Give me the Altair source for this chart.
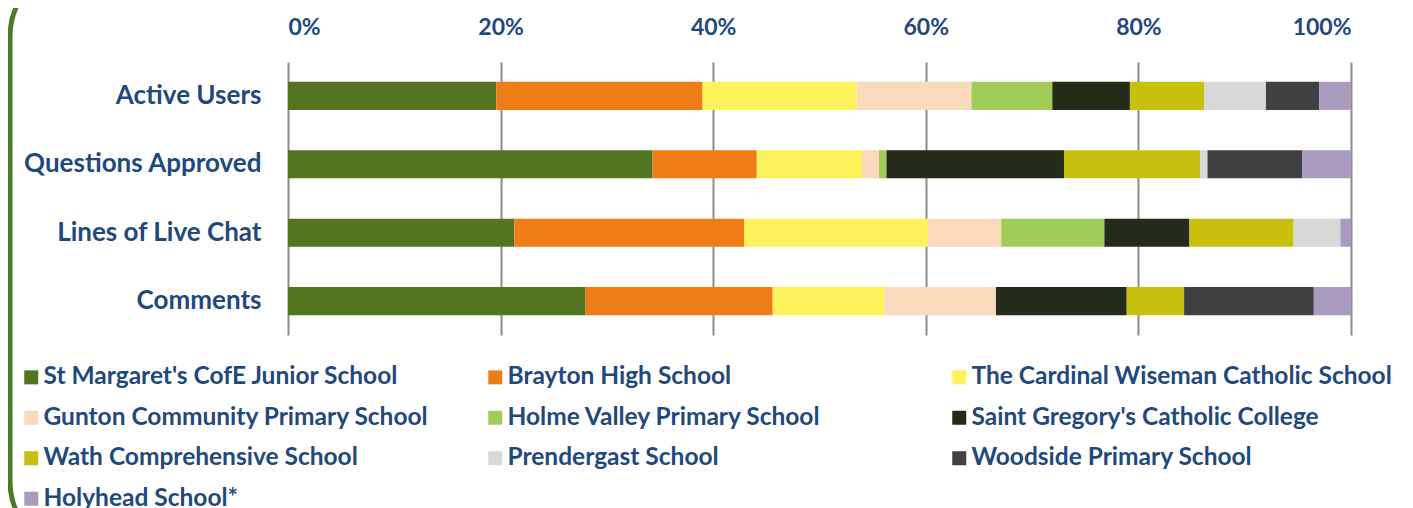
import altair as alt
import pandas as pd

metrics = ["Active Users", "Questions Approved", "Lines of Live Chat", "Comments"]
schools = [
    "St Margaret's CofE Junior School",
    "Brayton High School",
    "The Cardinal Wiseman Catholic School",
    "Gunton Community Primary School",
    "Holme Valley Primary School",
    "Saint Gregory's Catholic College",
    "Wath Comprehensive School",
    "Prendergast School",
    "Woodside Primary School",
    "Holyhead School*",
]
colors = ["#537521", "#EE7D16", "#FFF15C", "#FBD9BC", "#A0CC57",
          "#242B18", "#C9BF0E", "#D8D8D8", "#414042", "#A99BC0"]

# shares (%) per school, in legend order
active_users = [19.6, 19.4, 14.5, 10.8, 7.6, 7.3, 7.0, 5.8, 5.0, 3.0]
questions_approved = [34.3, 9.8, 9.9, 1.6, 0.7, 16.7, 12.8, 0.7, 8.9, 4.6]
lines_of_live_chat = [21.3, 21.6, 17.3, 6.9, 9.7, 8.0, 9.8, 4.4, 0.0, 1.0]
comments = [28.0, 17.6, 10.5, 10.5, 0.0, 12.3, 5.4, 0.0, 12.2, 3.5]

x_ticks = [0, 0.2, 0.4, 0.6, 0.8, 1.0]

series = [active_users, questions_approved, lines_of_live_chat, comments]
rows = []
for m, vals in zip(metrics, series):
    for i, (s, v) in enumerate(zip(schools, vals)):
        rows.append({"metric": m, "school": s, "value": v, "idx": i})
df = pd.DataFrame(rows)

TEXT = "#1F497D"
FONT = "Lato"

border = alt.Chart(pd.DataFrame({"d": [0]})).mark_rect(
    fill="transparent", stroke="#4F7A24", strokeWidth=5, cornerRadius=73
).encode(
    x=alt.value(-278), x2=alt.value(1700), y=alt.value(-98), y2=alt.value(492)
)

bars = alt.Chart(df).mark_bar().encode(
    y=alt.Y(
        "metric:N",
        sort=metrics,
        scale=alt.Scale(paddingInner=0.59, paddingOuter=0.29),
        axis=alt.Axis(
            title=None, domain=False, ticks=False, tickSize=0, labelPadding=27,
            labelFontSize=26, labelLimit=400, grid=False,
        ),
    ),
    x=alt.X(
        "value:Q",
        stack="normalize",
        scale=alt.Scale(domain=[0, 1], nice=False),
        axis=alt.Axis(
            orient="top", title=None, format="%", values=x_ticks, domain=False,
            ticks=False, tickSize=0, labelPadding=23, labelFontSize=23,
            grid=True, gridColor="#8C8C8C", gridWidth=2,
        ),
    ),
    color=alt.Color(
        "school:N",
        sort=schools,
        scale=alt.Scale(domain=schools, range=colors),
        legend=alt.Legend(
            title=None, orient="none", direction="horizontal",
            legendX=-269, legendY=303, columns=3,
            gridAlign="all", columnPadding=19, rowPadding=15.5,
            symbolType="square", symbolSize=196, symbolStrokeWidth=0,
            labelFontSize=24.5, labelOffset=0, labelLimit=600, padding=0,
        ),
    ),
    order=alt.Order("idx:Q"),
)

chart = alt.layer(border, bars).properties(
    width=1063,
    height=273,
    autosize=alt.AutoSizeParams(type="none"),
    padding={"left": 280, "top": 54, "right": 52, "bottom": 178},
).configure_view(stroke=None).configure_axis(
    labelFont=FONT, labelFontWeight="bold", labelColor=TEXT
).configure_legend(
    labelFont=FONT, labelFontWeight="bold", labelColor=TEXT
)

chart.save("out.html", embed_options={"renderer": "svg", "actions": False})
